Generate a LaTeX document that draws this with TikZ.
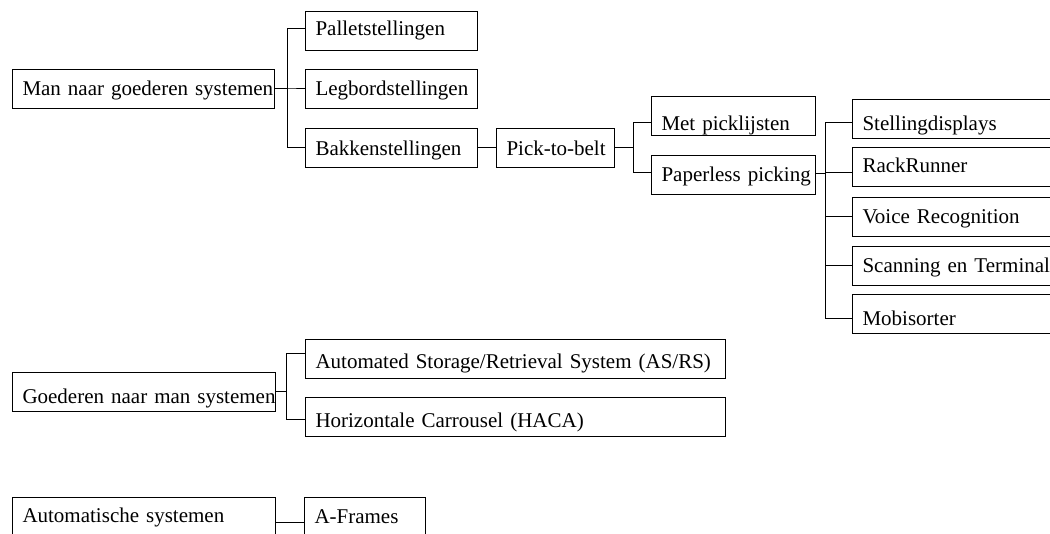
\documentclass[tikz,border=0pt]{standalone}
\usepackage{fontspec}
\setmainfont{Liberation Serif}
\begin{document}
\begin{tikzpicture}[x=1pt,y=-1pt,
  font=\fontsize{21}{25}\selectfont,
  box/.style={draw, line width=1pt, anchor=north west, inner xsep=10pt,
    inner ysep=0pt, minimum height=39pt, text depth=0pt, align=left},
  bw/.style={text width=#1pt},
  th/.style={text height=#1pt},
  link/.style={line width=1pt}]
\clip (0,0) rectangle (1050,534);

% Man naar goederen
\node[box,bw=242,th=13] (man)     at (12,69)    {\mbox{Man naar goederen systemen}};
\node[box,bw=152,th=10] (pallet)  at (305,11)   {\mbox{Palletstellingen}};
\node[box,bw=152,th=13] (legbord) at (305,69)   {\mbox{Legbordstellingen}};
\node[box,bw=152,th=15] (bakken)  at (305,128)  {\mbox{Bakkenstellingen}};
\node[box,bw=98,th=16]  (pick)    at (496,128)  {\mbox{Pick-to-belt}};
\node[box,bw=144,th=29] (met)     at (651,96)   {\mbox{Met picklijsten}};
\node[box,bw=144,th=14] (paper)   at (651,155)  {\mbox{Paperless picking}};
\node[box,bw=208,th=23] (stel)    at (852,99)   {\mbox{Stellingdisplays}};
\node[box,bw=208,th=12] (rack)    at (852,147)  {\mbox{RackRunner}};
\node[box,bw=208,th=14] (voice)   at (852,197)  {\mbox{Voice Recognition}};
\node[box,bw=208,th=14] (scan)    at (852,246)  {\mbox{Scanning en Terminal}};
\node[box,bw=208,th=24] (mobi)    at (852,294)  {\mbox{Mobisorter}};

% Goederen naar man
\node[box,bw=243,th=23] (goed)    at (12,372)   {\mbox{Goederen naar man systemen}};
\node[box,bw=400,th=19] (asrs)    at (305,339)  {\mbox{Automated Storage/Retrieval System (AS/RS)}};
\node[box,bw=400,th=22] (haca)    at (305,397)  {\mbox{Horizontale Carrousel (HACA)}};

% Automatische systemen
\node[box,bw=243,th=11] (auto)    at (12,497)   {\mbox{Automatische systemen}};
\node[box,bw=101,th=13] (aframe)  at (304,497)  {\mbox{A-Frames}};

% connectors
\draw[link] (man.east) -- ++(12,0) |- ([yshift=2.5pt]pallet.west);
\draw[link] (man.east) -- ++(12,0) |- (legbord.west);
\draw[link] (man.east) -- ++(12,0) |- (bakken.west);
\draw[link] (bakken.east) -- (pick.west);
\draw[link] (pick.east) -- ++(18,0) |- ([yshift=-6.5pt]met.west);
\draw[link] (pick.east) -- ++(18,0) |- ([yshift=2.5pt]paper.west);
\draw[link] ([yshift=1.5pt]paper.east) -- ++(9,0) |- ([yshift=-3.5pt]stel.west);
\draw[link] ([yshift=1.5pt]paper.east) -- ++(9,0) |- ([yshift=-6pt]rack.west);
\draw[link] ([yshift=1.5pt]paper.east) -- ++(9,0) |- (voice.west);
\draw[link] ([yshift=1.5pt]paper.east) -- ++(9,0) |- (scan.west);
\draw[link] ([yshift=1.5pt]paper.east) -- ++(9,0) |- ([yshift=-4.5pt]mobi.west);
\draw[link] (goed.east) -- ++(10,0) |- ([yshift=5.5pt]asrs.west);
\draw[link] (goed.east) -- ++(10,0) |- ([yshift=-3pt]haca.west);
\draw[link] ([yshift=-5.5pt]auto.east) -- ([yshift=-5.5pt]aframe.west);
\end{tikzpicture}
\end{document}
